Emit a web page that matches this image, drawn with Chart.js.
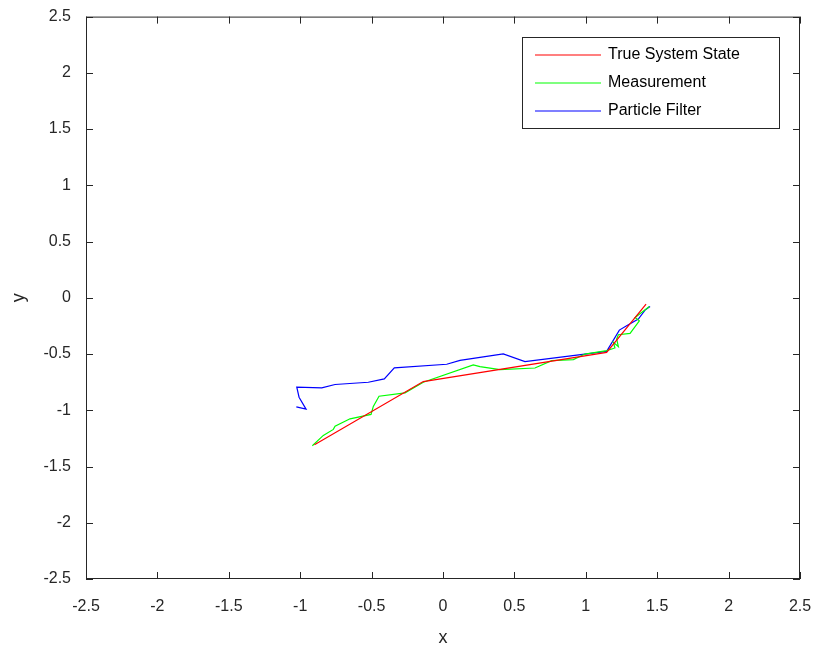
<!DOCTYPE html>
<html>
<head>
<meta charset="utf-8">
<script src="https://cdn.jsdelivr.net/npm/chart.js@4.4.1/dist/chart.umd.min.js"></script>
<style>
  html, body { margin: 0; padding: 0; background: #fff; }
  #wrap { width: 818px; height: 653px; }
</style>
</head>
<body>
<div id="wrap"><canvas id="c" width="818" height="653"></canvas></div>
<script>
// values
var seriesNames = ['True System State', 'Measurement', 'Particle Filter'];
var tickValues = [-2.5, -2, -1.5, -1, -0.5, 0, 0.5, 1, 1.5, 2, 2.5];

var trueX = [-0.90, -0.138, 1.146, 1.422];
var trueY = [-1.306, -0.745, -0.485, -0.056];

var measX = [-0.915, -0.838, -0.768, -0.756, -0.651, -0.504, -0.488, -0.448, -0.266, -0.138, 0.212, 0.259, 0.399, 0.644, 0.761, 0.913, 0.994, 1.146, 1.204, 1.193, 1.228, 1.216, 1.228, 1.31, 1.375, 1.345, 1.445];
var measY = [-1.315, -1.223, -1.170, -1.141, -1.076, -1.037, -0.966, -0.875, -0.845, -0.751, -0.597, -0.612, -0.638, -0.624, -0.559, -0.550, -0.500, -0.470, -0.446, -0.396, -0.434, -0.366, -0.328, -0.316, -0.204, -0.175, -0.077];

var pfX = [-1.027, -0.959, -1.008, -1.024, -0.849, -0.756, -0.523, -0.411, -0.341, 0.026, 0.119, 0.259, 0.422, 0.574, 1.146, 1.235, 1.286, 1.368, 1.415, 1.450];
var pfY = [-0.969, -0.990, -0.884, -0.795, -0.801, -0.771, -0.751, -0.721, -0.623, -0.591, -0.556, -0.529, -0.499, -0.567, -0.476, -0.287, -0.248, -0.189, -0.109, -0.077];

var colors = ['#ff0000', '#00ff00', '#0000ff'];

function pts(xs, ys) {
    return xs.map(function (x, i) { return { x: x, y: ys[i] }; });
}

var axisColor = '#262626';
var font = 'Helvetica, Arial, "Liberation Sans", sans-serif';

// box, inward ticks and legend drawn the matlab way
var boxPlugin = {
    id: 'box',
    afterDraw: function (chart) {
        var ctx = chart.ctx;
        var a = chart.chartArea;
        var xs = chart.scales.x, ys = chart.scales.y;
        ctx.save();
        ctx.strokeStyle = axisColor;
        ctx.lineWidth = 1;
        ctx.strokeRect(a.left + 0.5, a.top + 0.5, a.right - a.left - 1, a.bottom - a.top - 1);
        ctx.beginPath();
        tickValues.forEach(function (v) {
            var px = Math.round(xs.getPixelForValue(v)) + 0.5;
            ctx.moveTo(px, a.bottom); ctx.lineTo(px, a.bottom - 7);
            ctx.moveTo(px, a.top); ctx.lineTo(px, a.top + 7);
            var py = Math.round(ys.getPixelForValue(v)) + 0.5;
            ctx.moveTo(a.left, py); ctx.lineTo(a.left + 7, py);
            ctx.moveTo(a.right, py); ctx.lineTo(a.right - 7, py);
        });
        ctx.stroke();

        // legend
        var lx = 522, ly = 37, lw = 257, lh = 91;
        ctx.fillStyle = '#fff';
        ctx.fillRect(lx, ly, lw, lh);
        ctx.strokeStyle = axisColor;
        ctx.strokeRect(lx + 0.5, ly + 0.5, lw, lh);
        ctx.font = '16px ' + font;
        ctx.textBaseline = 'middle';
        seriesNames.forEach(function (name, i) {
            var yy = 55 + i * 28;
            ctx.strokeStyle = colors[i];
            ctx.lineWidth = 1.2;
            ctx.beginPath();
            ctx.moveTo(535, yy); ctx.lineTo(601, yy);
            ctx.stroke();
            ctx.fillStyle = '#000';
            ctx.fillText(name, 608, yy);
        });
        ctx.restore();
    }
};

var datasets = [pts(trueX, trueY), pts(measX, measY), pts(pfX, pfY)].map(function (d, i) {
    return {
        label: seriesNames[i],
        data: d,
        showLine: true,
        borderColor: colors[i],
        backgroundColor: colors[i],
        borderWidth: 1.2,
        pointRadius: 0,
        tension: 0
    };
});

function fmt(v) { return String(Math.round(v * 10) / 10); }

new Chart(document.getElementById('c'), {
    type: 'scatter',
    data: { datasets: datasets },
    plugins: [boxPlugin],
    options: {
        responsive: false,
        animation: false,
        devicePixelRatio: 1,
        layout: { padding: { top: 11, right: 18, left: 4, bottom: 0 } },
        plugins: { legend: { display: false }, tooltip: { enabled: false } },
        scales: {
            x: {
                type: 'linear', min: -2.5, max: 2.5,
                afterBuildTicks: function (s) { s.ticks = tickValues.map(function (v) { return { value: v }; }); },
                afterFit: function (s) { s.height = 74; s.paddingRight = 0; s.paddingLeft = 0; },
                grid: { display: false },
                border: { display: false },
                ticks: { color: axisColor, font: { size: 16, family: font }, padding: 10, maxRotation: 0, callback: fmt },
                title: { display: true, text: 'x', color: axisColor, font: { size: 18, family: font }, padding: { top: 2 } }
            },
            y: {
                type: 'linear', min: -2.5, max: 2.5,
                afterBuildTicks: function (s) { s.ticks = tickValues.map(function (v) { return { value: v }; }); },
                afterFit: function (s) { s.width = 82; },
                grid: { display: false },
                border: { display: false },
                ticks: { color: axisColor, font: { size: 16, family: font }, padding: 7, callback: fmt },
                title: { display: true, text: 'y', color: axisColor, font: { size: 18, family: font }, padding: { bottom: 6 } }
            }
        }
    }
});
</script>
</body>
</html>
